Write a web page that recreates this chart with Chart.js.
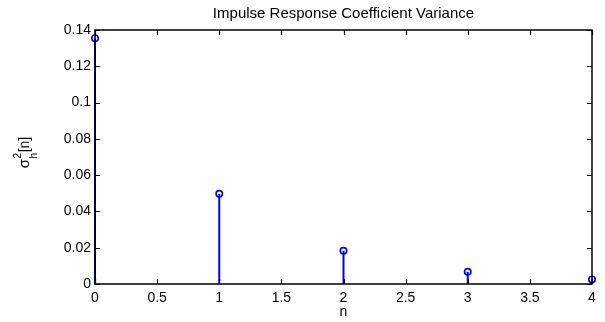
<!DOCTYPE html>
<html>
<head>
<meta charset="utf-8">
<script src="https://cdn.jsdelivr.net/npm/chart.js@4"></script>
<style>
  html, body { margin: 0; padding: 0; background: #fff; }
  #wrap { width: 605px; height: 322px; }
</style>
</head>
<body>
<div id="wrap"><canvas id="grafico"></canvas></div>
<script>
// --- data ---
const lags = [0, 1, 2, 3, 4];
const variancia = [0.1355, 0.0497, 0.0183, 0.0067, 0.0025];
const tituloGrafico = 'Impulse Response Coefficient Variance';
const rotuloX = 'n';

const AZUL = '#0000ff';
const FONTE = '"Liberation Sans", Arial, Helvetica, sans-serif';

// one line dataset per stem, from 0 up to the value
const hastes = lags.map((n, i) => ({
  type: 'line',
  data: [{ x: n, y: 0 }, { x: n, y: variancia[i] }],
  borderColor: AZUL,
  borderWidth: 2,
  pointRadius: 0,
  clip: false
}));

const marcadores = {
  type: 'line',
  data: lags.map((n, i) => ({ x: n, y: variancia[i] })),
  showLine: false,
  pointRadius: 3.2,
  pointBorderWidth: 1.6,
  pointBorderColor: AZUL,
  pointBackgroundColor: 'rgba(0,0,0,0)',
  clip: false
};

// box around the plot with inward ticks + y axis title
const caixaPlugin = {
  id: 'caixa',
  afterDatasetsDraw(chart) {
    const { ctx, chartArea: a, scales } = chart;
    const tam = 5;
    ctx.save();
    ctx.strokeStyle = '#000';
    ctx.lineWidth = 1.5;
    ctx.strokeRect(a.left, a.top, a.right - a.left, a.bottom - a.top);
    ctx.lineWidth = 1.2;
    ctx.beginPath();
    scales.x.ticks.forEach(t => {
      const px = Math.round(scales.x.getPixelForValue(t.value)) + 0.5;
      ctx.moveTo(px, a.bottom); ctx.lineTo(px, a.bottom - tam);
      ctx.moveTo(px, a.top); ctx.lineTo(px, a.top + tam);
    });
    scales.y.ticks.forEach(t => {
      const py = Math.round(scales.y.getPixelForValue(t.value)) + 0.5;
      ctx.moveTo(a.left, py); ctx.lineTo(a.left + tam, py);
      ctx.moveTo(a.right, py); ctx.lineTo(a.right - tam, py);
    });
    ctx.stroke();

    // sigma^2_h[n]
    ctx.translate(29, 153);
    ctx.rotate(-Math.PI / 2);
    ctx.fillStyle = '#000';
    ctx.textBaseline = 'alphabetic';
    ctx.font = '15px ' + FONTE;
    const w1 = ctx.measureText('σ').width;
    ctx.font = '10px ' + FONTE;
    const w2 = ctx.measureText('h').width;
    ctx.font = '14px ' + FONTE;
    const w3 = ctx.measureText('[n]').width;
    let x0 = -(w1 + w2 + w3) / 2;
    ctx.font = '15px ' + FONTE;
    ctx.fillText('σ', x0, 0);
    ctx.font = '10px ' + FONTE;
    ctx.fillText('2', x0 + w1 + 0.5, -8);
    ctx.fillText('h', x0 + w1 + 0.5, 8);
    ctx.font = '14px ' + FONTE;
    ctx.fillText('[n]', x0 + w1 + w2 + 1, 0);
    ctx.restore();
  }
};

new Chart(document.getElementById('grafico').getContext('2d'), {
  data: { datasets: [...hastes, marcadores] },
  options: {
    responsive: true,
    maintainAspectRatio: false,
    animation: false,
    layout: { padding: { right: 13, top: 0, left: 0, bottom: 0 } },
    plugins: {
      legend: { display: false },
      tooltip: { enabled: false },
      title: {
        display: true,
        text: tituloGrafico,
        fullSize: false,
        color: '#000',
        font: { family: FONTE, size: 15, weight: 'normal' },
        padding: { top: 5, bottom: 7 }
      }
    },
    scales: {
      x: {
        type: 'linear',
        min: 0, max: 4,
        ticks: {
          stepSize: 0.5, color: '#000', padding: 6, maxRotation: 0,
          font: { family: FONTE, size: 14 },
          callback: v => String(+v.toFixed(1))
        },
        grid: { display: false, drawTicks: false },
        border: { display: false },
        title: {
          display: true, text: rotuloX, color: '#000',
          font: { family: FONTE, size: 14 }, padding: { top: 0, bottom: 1 }
        },
        afterFit(s) { s.height = 38; }
      },
      y: {
        type: 'linear',
        min: 0, max: 0.14,
        ticks: {
          stepSize: 0.02, color: '#000', padding: 4,
          font: { family: FONTE, size: 14 },
          callback: v => String(+v.toFixed(2))
        },
        grid: { display: false, drawTicks: false },
        border: { display: false },
        afterFit(s) { s.width = 95; }
      }
    }
  },
  plugins: [caixaPlugin]
});
</script>
</body>
</html>
